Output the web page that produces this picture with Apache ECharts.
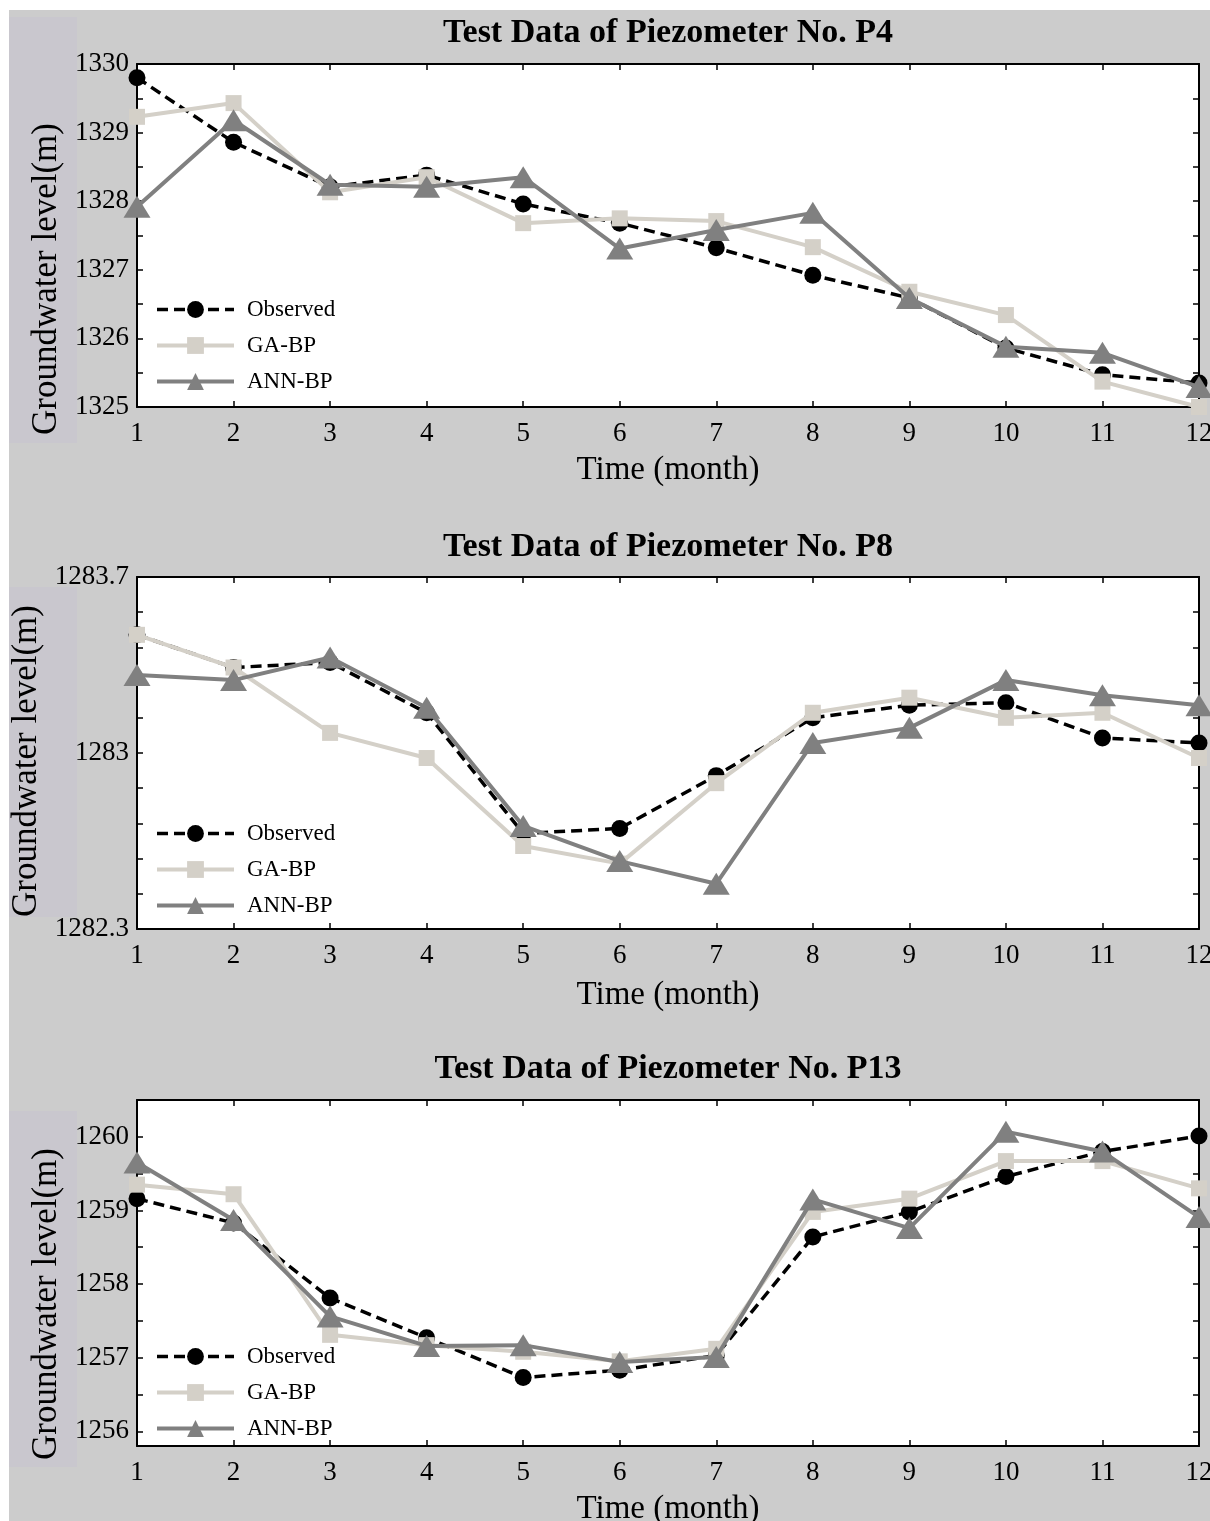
<!DOCTYPE html>
<html>
<head>
<meta charset="utf-8">
<script src="https://cdn.jsdelivr.net/npm/echarts@6/dist/echarts.min.js"></script>
<style>
html,body{margin:0;padding:0;background:#fff;}
#chart{width:1210px;height:1521px;}
</style>
</head>
<body>
<div id="chart"></div>
<script>
// ---------------- data ----------------
var months = [1, 2, 3, 4, 5, 6, 7, 8, 9, 10, 11, 12];
var seriesNames = ['Observed', 'GA-BP', 'ANN-BP'];
var panelTitles = ['Test Data of Piezometer No. P4', 'Test Data of Piezometer No. P8', 'Test Data of Piezometer No. P13'];

var p4Observed = [1329.80, 1328.86, 1328.21, 1328.38, 1327.96, 1327.68, 1327.32, 1326.92, 1326.59, 1325.86, 1325.47, 1325.35];
var p4GABP     = [1329.23, 1329.43, 1328.13, 1328.35, 1327.68, 1327.75, 1327.71, 1327.33, 1326.68, 1326.34, 1325.37, 1325.00];
var p4ANNBP    = [1327.92, 1329.18, 1328.24, 1328.21, 1328.35, 1327.31, 1327.58, 1327.83, 1326.59, 1325.88, 1325.79, 1325.29];

var p8Observed = [1283.47, 1283.34, 1283.36, 1283.16, 1282.68, 1282.70, 1282.91, 1283.14, 1283.19, 1283.20, 1283.06, 1283.04];
var p8GABP     = [1283.47, 1283.34, 1283.08, 1282.98, 1282.63, 1282.56, 1282.88, 1283.16, 1283.22, 1283.14, 1283.16, 1282.98];
var p8ANNBP    = [1283.31, 1283.29, 1283.38, 1283.18, 1282.71, 1282.57, 1282.48, 1283.04, 1283.10, 1283.29, 1283.23, 1283.19];

var p13Observed = [1259.16, 1258.83, 1257.81, 1257.27, 1256.73, 1256.83, 1257.03, 1258.64, 1258.98, 1259.46, 1259.80, 1260.01];
var p13GABP     = [1259.35, 1259.22, 1257.31, 1257.17, 1257.08, 1256.95, 1257.12, 1258.98, 1259.16, 1259.67, 1259.67, 1259.30];
var p13ANNBP    = [1259.65, 1258.87, 1257.56, 1257.16, 1257.17, 1256.94, 1257.01, 1259.15, 1258.76, 1260.07, 1259.80, 1258.91];

// tick labels / tick positions
var p4YLabels = [1325, 1326, 1327, 1328, 1329, 1330];
var p4YTicks  = [1325, 1325.5, 1326, 1326.5, 1327, 1327.5, 1328, 1328.5, 1329, 1329.5, 1330];
var p8YLabels = [1282.3, 1283, 1283.7];
var p8YTicks  = [1282.3, 1282.44, 1282.58, 1282.72, 1282.86, 1283, 1283.14, 1283.28, 1283.42, 1283.56, 1283.7];
var p13YLabels = [1256, 1257, 1258, 1259, 1260];
var p13YTicks  = [1256, 1256.5, 1257, 1257.5, 1258, 1258.5, 1259, 1259.5, 1260, 1260.5];

var panelData = [
  [p4Observed, p4GABP, p4ANNBP],
  [p8Observed, p8GABP, p8ANNBP],
  [p13Observed, p13GABP, p13ANNBP]
];
var yRanges = [[1325, 1330], [1282.3, 1283.7], [1255.8, 1260.5]];
var yLabelSets = [p4YLabels, p8YLabels, p13YLabels];
var yTickSets = [p4YTicks, p8YTicks, p13YTicks];

// ---------------- layout / style ----------------
var FONT = '"Liberation Serif", "Times New Roman", Times, serif';
var grids = [
  {left: 137, top: 64, width: 1062, height: 343},
  {left: 137, top: 577, width: 1062, height: 352},
  {left: 137, top: 1100, width: 1062, height: 346}
];
var titleCenters = [34, 548, 1070];
var legendTops = [298, 822, 1345];
var timeGaps = [47, 50, 47];
var nameShift = [87, 16, 62];   // padding to push the rotated y name downward
var nameBands = [[17, 443], [587, 917], [1111, 1467]];

var styles = [
  {color: '#000000', symbol: 'circle', size: 17, line: {width: 3.5, type: [11, 6]}},
  {color: '#d4d0c8', symbol: 'rect', size: 16, line: {width: 4, type: 'solid'}},
  {color: '#808080', symbol: 'triangle', size: [27, 22], line: {width: 4, type: 'solid'}}
];

function pairs(vals) {
  return months.map(function (m, i) { return [m, vals[i]]; });
}
function plainNum(v) { return String(v); }

var option = {
  backgroundColor: '#cccccc',
  animation: false,
  textStyle: {fontFamily: FONT},
  title: [], legend: [], grid: [], xAxis: [], yAxis: [], series: [],
  graphic: []
};

option.graphic.push({type: 'rect', shape: {x: 0, y: 0, width: 1210, height: 10}, style: {fill: '#ffffff'}, z: -1, silent: true});
option.graphic.push({type: 'rect', shape: {x: 0, y: 0, width: 9, height: 1521}, style: {fill: '#ffffff'}, z: -1, silent: true});

for (var p = 0; p < 3; p++) {
  var g = grids[p];
  option.grid.push({left: g.left, top: g.top, width: g.width, height: g.height, show: true,
    backgroundColor: '#ffffff', borderWidth: 0, containLabel: false, outerBoundsMode: 'none'});

  option.graphic.push({type: 'rect', shape: {x: 9, y: nameBands[p][0], width: 68, height: nameBands[p][1] - nameBands[p][0]},
    style: {fill: '#c9c7ce'}, z: -1, silent: true});

  option.title.push({
    text: panelTitles[p], left: 668, top: titleCenters[p] - 18, textAlign: 'center', padding: 0,
    textStyle: {fontFamily: FONT, fontWeight: 'bold', fontSize: 34, color: '#000', letterSpacing: -0.6}
  });

  var axisLine = {show: true, onZero: false, lineStyle: {color: '#000', width: 2}};
  var tickStyle = {color: '#000', width: 1.5};

  // bottom x axis
  option.xAxis.push({
    type: 'value', gridIndex: p, position: 'bottom', min: 1, max: 12, interval: 1,
    axisLine: axisLine,
    axisTick: {show: true, inside: true, length: 6, lineStyle: tickStyle},
    axisLabel: {show: true, fontFamily: FONT, fontSize: 27, color: '#000', margin: 13, formatter: plainNum},
    splitLine: {show: false},
    name: 'Time (month)', nameLocation: 'middle', nameGap: timeGaps[p],
    nameTextStyle: {fontFamily: FONT, fontSize: 33, color: '#000'}
  });
  // top mirror x axis
  option.xAxis.push({
    type: 'value', gridIndex: p, position: 'top', min: 1, max: 12, interval: 1,
    axisLine: axisLine,
    axisTick: {show: true, inside: true, length: 6, lineStyle: tickStyle},
    axisLabel: {show: false}, splitLine: {show: false}
  });
  // left y axis
  option.yAxis.push({
    type: 'value', gridIndex: p, position: 'left', min: yRanges[p][0], max: yRanges[p][1],
    axisLine: axisLine,
    axisTick: {show: true, inside: true, length: 6, lineStyle: tickStyle, customValues: yTickSets[p]},
    axisLabel: {show: true, fontFamily: FONT, fontSize: 27, color: '#000', margin: 8,
      customValues: yLabelSets[p], formatter: plainNum},
    splitLine: {show: false},
    name: 'Groundwater level(m)', nameLocation: 'middle', nameRotate: 90, nameGap: 67,
    nameTextStyle: {fontFamily: FONT, fontSize: 35, color: '#000', padding: [0, nameShift[p], 0, 0]}
  });
  // right mirror y axis
  option.yAxis.push({
    type: 'value', gridIndex: p, position: 'right', min: yRanges[p][0], max: yRanges[p][1],
    axisLine: axisLine,
    axisTick: {show: true, inside: true, length: 6, lineStyle: tickStyle, customValues: yTickSets[p]},
    axisLabel: {show: false}, splitLine: {show: false}
  });

  option.legend.push({
    data: [
      {name: seriesNames[0], lineStyle: {width: 3.5, type: [11, 6], color: styles[0].color}},
      {name: seriesNames[1], lineStyle: {width: 4, type: 'solid', color: styles[1].color}},
      {name: seriesNames[2], lineStyle: {width: 4, type: 'solid', color: styles[2].color}}
    ],
    orient: 'vertical', left: 155, top: legendTops[p],
    itemWidth: 77, itemHeight: 21, itemGap: 13, padding: 0,
    selectedMode: false,
    textStyle: {fontFamily: FONT, fontSize: 23, color: '#000', padding: [0, 0, 0, 8]}
  });

  for (var s = 0; s < 3; s++) {
    var st = styles[s];
    option.series.push({
      type: 'line', name: seriesNames[s],
      xAxisIndex: p * 2, yAxisIndex: p * 2,
      data: pairs(panelData[p][s]),
      symbol: st.symbol, symbolSize: st.size, showSymbol: true,
      clip: false,
      itemStyle: {color: st.color, borderWidth: 0},
      lineStyle: {color: st.color, width: st.line.width, type: st.line.type},
      z: 3 + s
    });
  }
}

var chart = echarts.init(document.getElementById('chart'), null, {renderer: 'canvas'});
chart.setOption(option);
</script>
</body>
</html>
